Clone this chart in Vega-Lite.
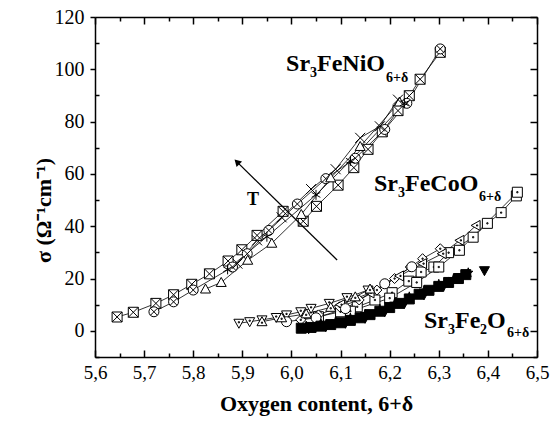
{
  "$schema": "https://vega.github.io/schema/vega-lite/v6.json",
  "width": 442,
  "height": 340,
  "autosize": {"type": "none"},
  "padding": {"left": 95, "top": 17, "right": 19, "bottom": 68},
  "background": "white",
  "config": {
    "view": {"stroke": null},
    "axis": {
      "domainColor": "black", "tickColor": "black", "labelColor": "black", "titleColor": "black",
      "grid": false, "labelFont": "Liberation Serif", "titleFont": "Liberation Serif",
      "domainWidth": 1.5, "tickWidth": 1.5, "labelFlush": false, "labelOverlap": false
    }
  },
  "datasets": {
    "pts": [
      {"x": 5.645, "y": 5.3, "s": "N1"}, {"x": 5.678, "y": 7.1, "s": "N1"}, {"x": 5.724, "y": 10.5, "s": "N1"}, {"x": 5.76, "y": 13.8, "s": "N1"}, {"x": 5.797, "y": 17.8, "s": "N1"}, {"x": 5.833, "y": 21.8, "s": "N1"}, {"x": 5.871, "y": 26.7, "s": "N1"}, {"x": 5.899, "y": 31.0, "s": "N1"}, {"x": 5.93, "y": 36.5, "s": "N1"}, {"x": 5.983, "y": 45.7, "s": "N1"},
      {"x": 6.024, "y": 41.9, "s": "N2"}, {"x": 6.051, "y": 47.6, "s": "N2"}, {"x": 6.095, "y": 55.7, "s": "N2"}, {"x": 6.127, "y": 62.4, "s": "N2"}, {"x": 6.156, "y": 69.4, "s": "N2"}, {"x": 6.185, "y": 76.1, "s": "N2"}, {"x": 6.217, "y": 84.2, "s": "N2"}, {"x": 6.24, "y": 89.9, "s": "N2"}, {"x": 6.262, "y": 96.2, "s": "N2"}, {"x": 6.303, "y": 106.5, "s": "N2"},
      {"x": 5.72, "y": 7.3, "s": "N3"}, {"x": 5.76, "y": 11.1, "s": "N3"}, {"x": 5.8, "y": 15.6, "s": "N3"}, {"x": 5.88, "y": 24.4, "s": "N3"}, {"x": 5.91, "y": 29.5, "s": "N3"}, {"x": 5.954, "y": 38.4, "s": "N3"}, {"x": 6.012, "y": 48.5, "s": "N3"}, {"x": 6.07, "y": 58.2, "s": "N3"}, {"x": 6.13, "y": 66.0, "s": "N3"}, {"x": 6.19, "y": 77.0, "s": "N3"}, {"x": 6.235, "y": 87.0, "s": "N3"}, {"x": 6.303, "y": 107.8, "s": "N3"},
      {"x": 5.825, "y": 16.0, "s": "N4"}, {"x": 5.857, "y": 18.5, "s": "N4"}, {"x": 5.911, "y": 27.0, "s": "N4"}, {"x": 5.96, "y": 33.5, "s": "N4"}, {"x": 6.02, "y": 44.5, "s": "N4"}, {"x": 6.08, "y": 58.5, "s": "N4"}, {"x": 6.14, "y": 70.5, "s": "N4"}, {"x": 6.22, "y": 87.5, "s": "N4"},
      {"x": 5.89, "y": 25.7, "s": "N5"}, {"x": 5.93, "y": 34.6, "s": "N5"}, {"x": 5.98, "y": 43.4, "s": "N5"}, {"x": 6.04, "y": 54.2, "s": "N5"}, {"x": 6.09, "y": 61.8, "s": "N5"}, {"x": 6.14, "y": 73.8, "s": "N5"}, {"x": 6.18, "y": 78.2, "s": "N5"}, {"x": 6.217, "y": 88.4, "s": "N5"},
      {"x": 5.87, "y": 23.5, "s": "N6"}, {"x": 5.95, "y": 36.0, "s": "N6"}, {"x": 6.05, "y": 52.0, "s": "N6"}, {"x": 6.12, "y": 65.0, "s": "N6"}, {"x": 6.23, "y": 87.0, "s": "N6"},
      {"x": 6.055, "y": 5.4, "s": "C1"}, {"x": 6.1, "y": 7.3, "s": "C1"}, {"x": 6.134, "y": 9.2, "s": "C1"}, {"x": 6.17, "y": 11.8, "s": "C1"}, {"x": 6.205, "y": 14.6, "s": "C1"}, {"x": 6.239, "y": 19.0, "s": "C1"}, {"x": 6.264, "y": 22.5, "s": "C1"}, {"x": 6.29, "y": 24.4, "s": "C1"}, {"x": 6.32, "y": 29.9, "s": "C1"}, {"x": 6.37, "y": 35.8, "s": "C1"}, {"x": 6.399, "y": 41.1, "s": "C1"}, {"x": 6.427, "y": 45.2, "s": "C1"}, {"x": 6.458, "y": 51.6, "s": "C1"},
      {"x": 6.12, "y": 7.5, "s": "C7"}, {"x": 6.2, "y": 12.5, "s": "C7"}, {"x": 6.255, "y": 18.5, "s": "C7"}, {"x": 6.3, "y": 24.4, "s": "C7"}, {"x": 6.342, "y": 30.8, "s": "C7"}, {"x": 6.46, "y": 53.0, "s": "C7"},
      {"x": 6.019, "y": 4.2, "s": "C2"}, {"x": 6.055, "y": 6.1, "s": "C2"}, {"x": 6.098, "y": 9.2, "s": "C2"}, {"x": 6.138, "y": 11.8, "s": "C2"}, {"x": 6.174, "y": 15.6, "s": "C2"}, {"x": 6.21, "y": 20.0, "s": "C2"}, {"x": 6.242, "y": 24.4, "s": "C2"}, {"x": 6.267, "y": 27.6, "s": "C2"}, {"x": 6.303, "y": 31.4, "s": "C2"},
      {"x": 6.1, "y": 10.0, "s": "C3"}, {"x": 6.16, "y": 14.5, "s": "C3"}, {"x": 6.22, "y": 21.0, "s": "C3"}, {"x": 6.267, "y": 25.7, "s": "C3"}, {"x": 6.307, "y": 29.5, "s": "C3"}, {"x": 6.343, "y": 34.6, "s": "C3"}, {"x": 6.376, "y": 40.3, "s": "C3"},
      {"x": 5.893, "y": 2.9, "s": "C4"}, {"x": 5.915, "y": 3.5, "s": "C4"}, {"x": 5.94, "y": 4.2, "s": "C4"}, {"x": 5.969, "y": 5.1, "s": "C4"}, {"x": 5.99, "y": 6.1, "s": "C4"}, {"x": 6.019, "y": 7.3, "s": "C4"}, {"x": 6.04, "y": 8.6, "s": "C4"}, {"x": 6.077, "y": 10.5, "s": "C4"}, {"x": 6.113, "y": 12.7, "s": "C4"}, {"x": 6.156, "y": 15.6, "s": "C4"},
      {"x": 5.99, "y": 3.5, "s": "C5"}, {"x": 6.05, "y": 5.0, "s": "C5"}, {"x": 6.11, "y": 8.5, "s": "C5"}, {"x": 6.19, "y": 18.0, "s": "C5"}, {"x": 6.245, "y": 24.5, "s": "C5"},
      {"x": 5.94, "y": 3.5, "s": "C6"}, {"x": 5.98, "y": 5.0, "s": "C6"}, {"x": 6.03, "y": 6.5, "s": "C6"}, {"x": 6.08, "y": 9.0, "s": "C6"}, {"x": 6.13, "y": 13.0, "s": "C6"}, {"x": 6.16, "y": 16.0, "s": "C6"},
      {"x": 6.02, "y": 1.0, "s": "F1"}, {"x": 6.04, "y": 1.3, "s": "F1"}, {"x": 6.06, "y": 1.8, "s": "F1"}, {"x": 6.08, "y": 2.4, "s": "F1"}, {"x": 6.1, "y": 3.1, "s": "F1"}, {"x": 6.12, "y": 4.0, "s": "F1"}, {"x": 6.14, "y": 5.0, "s": "F1"}, {"x": 6.16, "y": 6.2, "s": "F1"}, {"x": 6.18, "y": 7.5, "s": "F1"}, {"x": 6.2, "y": 8.9, "s": "F1"}, {"x": 6.22, "y": 10.5, "s": "F1"}, {"x": 6.24, "y": 12.2, "s": "F1"}, {"x": 6.26, "y": 14.0, "s": "F1"}, {"x": 6.28, "y": 15.5, "s": "F1"}, {"x": 6.3, "y": 17.0, "s": "F1"}, {"x": 6.32, "y": 18.5, "s": "F1"}, {"x": 6.34, "y": 20.0, "s": "F1"}, {"x": 6.355, "y": 21.5, "s": "F1"},
      {"x": 6.03, "y": 1.8, "s": "F2"}, {"x": 6.06, "y": 2.6, "s": "F2"}, {"x": 6.09, "y": 3.6, "s": "F2"}, {"x": 6.12, "y": 4.9, "s": "F2"}, {"x": 6.15, "y": 6.4, "s": "F2"}, {"x": 6.18, "y": 8.3, "s": "F2"}, {"x": 6.21, "y": 10.4, "s": "F2"}, {"x": 6.24, "y": 13.0, "s": "F2"}, {"x": 6.27, "y": 15.4, "s": "F2"}, {"x": 6.3, "y": 17.8, "s": "F2"}, {"x": 6.33, "y": 19.8, "s": "F2"}, {"x": 6.36, "y": 22.2, "s": "F2"},
      {"x": 6.035, "y": 0.8, "s": "F3"}, {"x": 6.07, "y": 1.6, "s": "F3"}, {"x": 6.11, "y": 2.9, "s": "F3"}, {"x": 6.15, "y": 4.8, "s": "F3"}, {"x": 6.19, "y": 7.3, "s": "F3"}, {"x": 6.23, "y": 10.5, "s": "F3"}, {"x": 6.27, "y": 13.8, "s": "F3"}, {"x": 6.31, "y": 17.2, "s": "F3"}, {"x": 6.345, "y": 20.2, "s": "F3"},
      {"x": 6.393, "y": 23.0, "s": "F4"}
    ],
    "arrow": [{"x": 6.093, "y": 27.1, "x2": 5.889, "y2": 64.6}],
    "labels": [
      {"x": 5.989, "y": 99.35, "t": "Sr", "k": "m"},
      {"x": 6.0378, "y": 97.06, "t": "3", "k": "s"},
      {"x": 6.052, "y": 99.35, "t": "FeNiO", "k": "m"},
      {"x": 6.1925, "y": 95.15, "t": "6+δ", "k": "s"},
      {"x": 6.1681, "y": 53.47, "t": "Sr", "k": "m"},
      {"x": 6.217, "y": 51.17, "t": "3", "k": "s"},
      {"x": 6.2312, "y": 53.47, "t": "FeCoO", "k": "m"},
      {"x": 6.3819, "y": 49.64, "t": "6+δ", "k": "s"},
      {"x": 6.2699, "y": 1.09, "t": "Sr", "k": "m"},
      {"x": 6.3188, "y": -1.2, "t": "3", "k": "s"},
      {"x": 6.333, "y": 1.09, "t": "Fe", "k": "m"},
      {"x": 6.3839, "y": -1.2, "t": "2", "k": "s"},
      {"x": 6.3982, "y": 1.09, "t": "O", "k": "m"},
      {"x": 6.4389, "y": -2.35, "t": "6+δ", "k": "s"},
      {"x": 5.9095, "y": 48.3, "t": "T", "k": "t"}
    ]
  },
  "resolve": {"axis": {"x": "independent", "y": "independent"}},
  "layer": [
    {
      "data": {"name": "pts"},
      "transform": [{"filter": "datum.s !== 'F4'"}],
      "mark": {"type": "line", "stroke": "black", "strokeWidth": 0.8},
      "encoding": {
        "x": {"field": "x", "type": "quantitative", "scale": {"domain": [5.6, 6.5], "nice": false, "zero": false},
          "axis": {"orient": "top", "labels": false, "title": null,
            "values": [5.6, 5.65, 5.7, 5.75, 5.8, 5.85, 5.9, 5.95, 6.0, 6.05, 6.1, 6.15, 6.2, 6.25, 6.3, 6.35, 6.4, 6.45, 6.5],
            "tickSize": {"condition": {"test": "round(datum.value*20) % 2 == 0", "value": -7}, "value": -4}}},
        "y": {"field": "y", "type": "quantitative", "scale": {"domain": [-10, 120], "nice": false, "zero": false},
          "axis": {"orient": "right", "labels": false, "title": null,
            "values": [-10, 0, 10, 20, 30, 40, 50, 60, 70, 80, 90, 100, 110, 120],
            "tickSize": {"condition": {"test": "datum.value % 20 == 0", "value": -7}, "value": -4}}},
        "detail": {"field": "s"}
      }
    },
    {
      "data": {"name": "pts"},
      "mark": {"type": "point", "filled": true, "stroke": "black", "strokeWidth": 1, "opacity": 1},
      "encoding": {
        "x": {"field": "x", "type": "quantitative",
          "axis": {"orient": "bottom", "title": "Oxygen content, 6+δ",
            "values": [5.6, 5.65, 5.7, 5.75, 5.8, 5.85, 5.9, 5.95, 6.0, 6.05, 6.1, 6.15, 6.2, 6.25, 6.3, 6.35, 6.4, 6.45, 6.5],
            "tickSize": {"condition": {"test": "round(datum.value*20) % 2 == 0", "value": -7}, "value": -4},
            "labelExpr": "round(datum.value*20) % 2 == 0 ? replace(format(datum.value, '.1f'), '.', ',') : ''",
            "labelPadding": 13, "labelFontSize": 19,
            "titleFontSize": 22, "titleFontWeight": "bold", "titlePadding": 8}},
        "y": {"field": "y", "type": "quantitative",
          "axis": {"orient": "left", "title": "σ (Ω⁻¹cm⁻¹)",
            "values": [-10, 0, 10, 20, 30, 40, 50, 60, 70, 80, 90, 100, 110, 120],
            "tickSize": {"condition": {"test": "datum.value % 20 == 0", "value": 5}, "value": -4},
            "labelExpr": "datum.value % 20 == 0 ? '' + datum.value : ''",
            "labelPadding": 6, "labelFontSize": 20,
            "titleFontSize": 22, "titleFontWeight": "bold", "titleX": -52, "titleY": 193, "titleBaseline": "middle"}},
        "shape": {"field": "s", "legend": null, "scale": {
          "domain": ["N1", "N2", "N3", "N4", "N5", "N6", "C1", "C7", "C2", "C3", "C4", "C5", "C6", "F1", "F2", "F3", "F4"],
          "range": [
            "M-1,-1H1V1H-1Z M-1,-1L1,1 M-1,1L1,-1",
            "M-1,-1H1V1H-1Z M-1,-1L1,1 M-1,1L1,-1",
            "M1,0A1,1,0,1,1,-1,0A1,1,0,1,1,1,0Z M-0.7,-0.7L0.7,0.7 M-0.7,0.7L0.7,-0.7",
            "M0,-1L1,0.8L-1,0.8Z",
            "M-1,-1L1,1M-1,1L1,-1",
            "M0,-1V1M-0.87,-0.5L0.87,0.5M-0.87,0.5L0.87,-0.5",
            "M-1,-1H1V1H-1Z M-0.12,-0.12H0.12V0.12H-0.12Z",
            "M-1,-1H1V1H-1Z M-0.12,-0.12H0.12V0.12H-0.12Z",
            "M0,-1L1,0L0,1L-1,0Z M-0.12,-0.12H0.12V0.12H-0.12Z",
            "M-1,0L0.8,-1L0.8,1Z M0.08,-0.12H0.32V0.12H0.08Z",
            "M0,1L1,-0.8L-1,-0.8Z M-0.12,-0.32H0.12V-0.08H-0.12Z",
            "M1,0A1,1,0,1,1,-1,0A1,1,0,1,1,1,0Z",
            "M0,-1L1,0.8L-1,0.8Z M-0.12,0.08H0.12V0.32H-0.12Z",
            "M-1,-1H1V1H-1Z",
            "M0,-1L0.22,-0.31L0.95,-0.31L0.36,0.12L0.59,0.81L0,0.38L-0.59,0.81L-0.36,0.12L-0.95,-0.31L-0.22,-0.31Z",
            "M0,1L1,-0.8L-1,-0.8Z",
            "M0,1L1,-0.8L-1,-0.8Z"
          ]}},
        "fill": {"field": "s", "legend": null, "scale": {
          "domain": ["N1", "N2", "N3", "N4", "N5", "N6", "C1", "C7", "C2", "C3", "C4", "C5", "C6", "F1", "F2", "F3", "F4"],
          "range": ["white", "white", "white", "white", "white", "white", "white", "white", "white", "white", "white", "white", "white", "black", "black", "black", "black"]}},
        "size": {"field": "s", "legend": null, "scale": {
          "domain": ["N1", "N2", "N3", "N4", "N5", "N6", "C1", "C7", "C2", "C3", "C4", "C5", "C6", "F1", "F2", "F3", "F4"],
          "range": [100, 100, 100, 110, 90, 90, 90, 90, 110, 110, 110, 90, 110, 110, 150, 120, 220]}}
      }
    },
    {
      "data": {"name": "arrow"},
      "mark": {"type": "rule", "stroke": "black", "strokeWidth": 1.3},
      "encoding": {
        "x": {"field": "x", "type": "quantitative", "axis": null},
        "y": {"field": "y", "type": "quantitative", "axis": null},
        "x2": {"field": "x2"},
        "y2": {"field": "y2"}
      }
    },
    {
      "data": {"name": "arrow"},
      "mark": {"type": "point", "shape": "triangle-up", "filled": true, "fill": "black", "stroke": null, "size": 60, "angle": 315, "opacity": 1},
      "encoding": {
        "x": {"field": "x2", "type": "quantitative", "axis": null},
        "y": {"field": "y2", "type": "quantitative", "axis": null}
      }
    },
    {
      "data": {"name": "labels"},
      "transform": [{"filter": "datum.k === 'm'"}],
      "mark": {"type": "text", "font": "Liberation Serif", "fontWeight": "bold", "fontSize": 24, "align": "left", "baseline": "alphabetic", "fill": "black"},
      "encoding": {
        "x": {"field": "x", "type": "quantitative", "axis": null},
        "y": {"field": "y", "type": "quantitative", "axis": null},
        "text": {"field": "t"}
      }
    },
    {
      "data": {"name": "labels"},
      "transform": [{"filter": "datum.k === 's'"}],
      "mark": {"type": "text", "font": "Liberation Serif", "fontWeight": "bold", "fontSize": 14, "align": "left", "baseline": "alphabetic", "fill": "black"},
      "encoding": {
        "x": {"field": "x", "type": "quantitative", "axis": null},
        "y": {"field": "y", "type": "quantitative", "axis": null},
        "text": {"field": "t"}
      }
    },
    {
      "data": {"name": "labels"},
      "transform": [{"filter": "datum.k === 't'"}],
      "mark": {"type": "text", "font": "Liberation Serif", "fontWeight": "bold", "fontSize": 18, "align": "left", "baseline": "alphabetic", "fill": "black"},
      "encoding": {
        "x": {"field": "x", "type": "quantitative", "axis": null},
        "y": {"field": "y", "type": "quantitative", "axis": null},
        "text": {"field": "t"}
      }
    }
  ]
}
